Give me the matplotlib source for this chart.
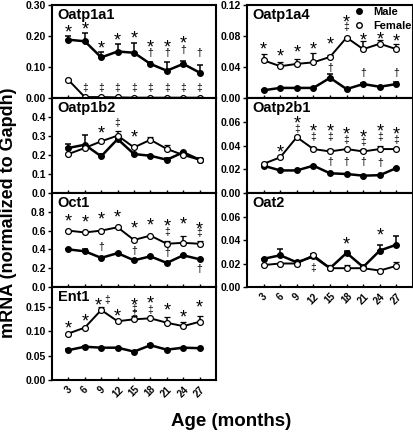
"""
Hepatic transporter mRNA vs age, male and female (seven small panels).
Output: out.png
"""

import matplotlib
matplotlib.use("Agg")
import matplotlib.pyplot as plt
from matplotlib.lines import Line2D

plt.rcParams["font.family"] = ["Liberation Sans", "DejaVu Sans"]
plt.rcParams["font.weight"] = "bold"

# ── Data ──────────────────────────────────────────────────────────────────────
AGES = [3, 6, 9, 12, 15, 18, 21, 24, 27]

OATP1A1_MALE = [0.188, 0.183, 0.131, 0.150, 0.146, 0.110, 0.088, 0.110, 0.082]
OATP1A1_MALE_ERR = [0.011, 0.026, 0.017, 0.025, 0.031, 0.005, 0.029, 0.010, 0.025]
OATP1A1_FEMALE = [0.058, 0.003, 0.003, 0.002, 0.001, 0.001, 0.001, 0.001, 0.001]
OATP1A1_FEMALE_ERR = [0.003, 0, 0, 0, 0, 0, 0, 0, 0]

OATP1A4_MALE = [0.010, 0.013, 0.013, 0.013, 0.026, 0.0115, 0.018, 0.0145, 0.018]
OATP1A4_MALE_ERR = [0, 0, 0, 0, 0.005, 0, 0.002, 0, 0.003]
OATP1A4_FEMALE = [0.0486, 0.041, 0.044, 0.046, 0.053, 0.078, 0.063, 0.070, 0.063]
OATP1A4_FEMALE_ERR = [0.008, 0.006, 0.006, 0.012, 0.002, 0.001, 0.010, 0.005, 0.007]

OATP1B2_MALE = [0.237, 0.254, 0.193, 0.284, 0.205, 0.196, 0.175, 0.214, 0.175]
OATP1B2_MALE_ERR = [0.021, 0.053, 0.012, 0, 0, 0.005, 0.010, 0, 0.008]
OATP1B2_FEMALE = [0.205, 0.237, 0.272, 0.302, 0.240, 0.280, 0.232, 0.200, 0.175]
OATP1B2_FEMALE_ERR = [0, 0, 0.005, 0.022, 0.005, 0.015, 0.022, 0, 0.010]

OATP2B1_MALE = [0.023, 0.019, 0.019, 0.023, 0.0166, 0.016, 0.0146, 0.015, 0.021]
OATP2B1_MALE_ERR = [0, 0, 0, 0, 0, 0, 0, 0, 0]
OATP2B1_FEMALE = [0.0246, 0.030, 0.047, 0.037, 0.035, 0.037, 0.035, 0.037, 0.037]
OATP2B1_FEMALE_ERR = [0, 0, 0.001, 0.002, 0.002, 0, 0.002, 0.003, 0.001]

OCT1_MALE = [0.40, 0.38, 0.31, 0.36, 0.284, 0.326, 0.256, 0.337, 0.295]
OCT1_MALE_ERR = [0, 0.02, 0, 0, 0, 0, 0, 0, 0]
OCT1_FEMALE = [0.60, 0.58, 0.60, 0.635, 0.50, 0.547, 0.46, 0.47, 0.46]
OCT1_FEMALE_ERR = [0.01, 0, 0, 0, 0.01, 0, 0.03, 0.07, 0.03]

OAT2_MALE = [0.024, 0.027, 0.021, 0.026, 0.016, 0.029, 0.017, 0.031, 0.036]
OAT2_MALE_ERR = [0, 0.005, 0, 0.002, 0, 0.002, 0, 0.005, 0.007]
OAT2_FEMALE = [0.0187, 0.020, 0.020, 0.027, 0.016, 0.016, 0.016, 0.014, 0.018]
OAT2_FEMALE_ERR = [0, 0, 0, 0.001, 0.003, 0.003, 0, 0, 0.003]

ENT1_MALE = [0.061, 0.068, 0.066, 0.066, 0.058, 0.071, 0.062, 0.066, 0.065]
ENT1_MALE_ERR = [0.003, 0.002, 0, 0, 0, 0.002, 0, 0, 0]
ENT1_FEMALE = [0.095, 0.107, 0.143, 0.120, 0.124, 0.126, 0.117, 0.110, 0.119]
ENT1_FEMALE_ERR = [0, 0, 0.007, 0, 0.006, 0, 0.012, 0.009, 0.012]

# Significance marks: (age, level, symbol)
STAR, DAG, DDAG = "*", "\u2020", "\u2021"

OATP1A1_MARKS = (
    [(a, y, STAR) for a, y in zip([3, 6, 9, 12, 15, 18, 21, 24],
                                  [0.229, 0.238, 0.177, 0.204, 0.21, 0.18, 0.18, 0.194])]
    + [(a, y, DAG) for a, y in zip([18, 21, 24, 27], [0.146, 0.146, 0.155, 0.146])]
    + [(a, 0.032, DDAG) for a in [6, 9, 12, 15, 18, 21, 24, 27]]
)
OATP1A4_MARKS = (
    [(a, y, STAR) for a, y in zip(AGES,
                                  [0.069, 0.061, 0.065, 0.069, 0.076, 0.104, 0.081, 0.083, 0.080])]
    + [(18, 0.091, DDAG)]
    + [(a, y, DAG) for a, y in zip([15, 21, 27], [0.039, 0.032, 0.032])]
)
OATP1B2_MARKS = [(9, 0.34, STAR), (12, 0.37, DDAG), (15, 0.32, STAR)]
OATP2B1_MARKS = (
    [(a, y, STAR) for a, y in zip(AGES[1:],
                                  [0.039, 0.063, 0.056, 0.056, 0.054, 0.051, 0.056, 0.054])]
    + [(a, y, DDAG) for a, y in zip(AGES[2:],
                                    [0.0535, 0.047, 0.047, 0.045, 0.043, 0.047, 0.045])]
    + [(a, y, DAG) for a, y in zip([15, 18, 21, 24], [0.026, 0.026, 0.026, 0.025])]
)
OCT1_MARKS = (
    [(a, y, STAR) for a, y in zip(AGES,
                                  [0.75, 0.74, 0.78, 0.80, 0.68, 0.71, 0.70, 0.72, 0.67])]
    + [(21, 0.585, DDAG), (27, 0.575, DDAG)]
    + [(a, y, DAG) for a, y in zip([9, 15, 21, 27], [0.43, 0.38, 0.36, 0.19])]
)
OAT2_MARKS = [(18, 0.041, STAR), (24, 0.048, STAR), (12, 0.016, DDAG)]
ENT1_MARKS = (
    [(a, y, STAR) for a, y in zip([3, 6, 8.4, 12, 15, 18, 21, 24, 27],
                                  [0.117, 0.131, 0.163, 0.141, 0.163, 0.167, 0.153, 0.139, 0.160])]
    + [(10.1, 0.163, DDAG), (15, 0.145, DDAG), (15, 0.134, DDAG), (18, 0.144, DDAG)]
)

# ── Panel layout (pixels in a 414 x 432 canvas) ───────────────────────────────
W, H = 414, 432
COLS = {"L": (52, 216), "R": (247, 413)}
ROWS = [(5, 98), (98, 193), (193, 287), (287, 380)]

PANELS = [
    # name, col, row, male, male_err, female, female_err, marks, ymax, yticks, fmt
    ("Oatp1a1", "L", 0, OATP1A1_MALE, OATP1A1_MALE_ERR, OATP1A1_FEMALE,
     OATP1A1_FEMALE_ERR, OATP1A1_MARKS, 0.30, [0, 0.1, 0.2, 0.3], "{:.2f}"),
    ("Oatp1b2", "L", 1, OATP1B2_MALE, OATP1B2_MALE_ERR, OATP1B2_FEMALE,
     OATP1B2_FEMALE_ERR, OATP1B2_MARKS, 0.50, [0, 0.1, 0.2, 0.3, 0.4], "{:.1f}"),
    ("Oct1", "L", 2, OCT1_MALE, OCT1_MALE_ERR, OCT1_FEMALE,
     OCT1_FEMALE_ERR, OCT1_MARKS, 1.0, [0, 0.2, 0.4, 0.6, 0.8], "{:.1f}"),
    ("Ent1", "L", 3, ENT1_MALE, ENT1_MALE_ERR, ENT1_FEMALE,
     ENT1_FEMALE_ERR, ENT1_MARKS, 0.19, [0, 0.05, 0.10, 0.15], "{:.2f}"),
    ("Oatp1a4", "R", 0, OATP1A4_MALE, OATP1A4_MALE_ERR, OATP1A4_FEMALE,
     OATP1A4_FEMALE_ERR, OATP1A4_MARKS, 0.12, [0, 0.04, 0.08, 0.12], "{:.2f}"),
    ("Oatp2b1", "R", 1, OATP2B1_MALE, OATP2B1_MALE_ERR, OATP2B1_FEMALE,
     OATP2B1_FEMALE_ERR, OATP2B1_MARKS, 0.08, [0, 0.02, 0.04, 0.06], "{:.2f}"),
    ("Oat2", "R", 2, OAT2_MALE, OAT2_MALE_ERR, OAT2_FEMALE,
     OAT2_FEMALE_ERR, OAT2_MARKS, 0.08, [0, 0.02, 0.04, 0.06], "{:.2f}"),
]
BOTTOM_PANELS = {"Ent1", "Oat2"}

# symbol -> (font size, downward shift in points so the glyph sits on its level)
MARK_STYLE = {STAR: (13, -4.2), DAG: (7.5, 0.0), DDAG: (7.5, 0.0)}

# ── Draw ──────────────────────────────────────────────────────────────────────
fig = plt.figure(figsize=(W / 100, H / 100), dpi=100)
fig.patch.set_facecolor("white")

for (name, col, row, male, male_err, female, female_err, marks,
     ymax, yticks, fmt) in PANELS:
    x0, x1 = COLS[col]
    y0, y1 = ROWS[row]
    ax = fig.add_axes([x0 / W, 1 - y1 / H, (x1 - x0) / W, (y1 - y0) / H])

    # male: filled circles, female: open circles; upper error caps only
    ax.errorbar(AGES, male, yerr=[[0] * len(male), male_err], fmt="-o",
                color="black", mfc="black", mec="black", ms=4, lw=1.8,
                elinewidth=1.1, capsize=2.2, capthick=1.1, zorder=3)
    ax.errorbar(AGES, female, yerr=[[0] * len(female), female_err], fmt="-o",
                color="black", mfc="white", mec="black", mew=0.9, ms=4.2,
                lw=1.4, elinewidth=1.1, capsize=2.2, capthick=1.1, zorder=4)

    for age, level, sym in marks:
        size, shift = MARK_STYLE[sym]
        ax.annotate(sym, (age, level), xytext=(0, shift),
                    textcoords="offset points", ha="center", va="center",
                    fontsize=size, fontweight="normal", color="black",
                    zorder=5)

    ax.text(0.035, 0.965, name, transform=ax.transAxes, ha="left", va="top",
            fontsize=10.5, fontweight="bold")

    ax.set_xlim(0, 30)
    ax.set_ylim(0, ymax)
    ax.set_xticks(AGES)
    ax.set_yticks(yticks)
    ax.set_yticklabels([fmt.format(v) for v in yticks], fontsize=7.5,
                       fontweight="bold")
    ax.tick_params(axis="x", direction="in", length=2, width=1)
    ax.tick_params(axis="y", direction="out", length=3, width=1, pad=1.5)
    if name in BOTTOM_PANELS:
        ax.set_xticklabels([str(a) for a in AGES], rotation=45, ha="center",
                           va="top", fontsize=7, fontweight="bold")
        ax.tick_params(axis="x", pad=3)
    else:
        ax.set_xticklabels([])

    for spine in ax.spines.values():
        spine.set_linewidth(1.5)

    if name == "Oatp1a4":
        handles = [
            Line2D([], [], ls="none", marker="o", ms=4, mfc="black", mec="black"),
            Line2D([], [], ls="none", marker="o", ms=4, mfc="white", mec="black"),
        ]
        ax.legend(handles, ["Male", "Female"], loc="upper right",
                  frameon=False, handlelength=1.0, handletextpad=0.8,
                  borderaxespad=0.05, borderpad=0.1, labelspacing=0.4,
                  prop={"size": 8, "weight": "bold"})

# ── Axis titles ───────────────────────────────────────────────────────────────
fig.text(0.02, 1 - 213 / H, "mRNA (normalized to Gapdh)", rotation=90,
         ha="center", va="center", fontsize=13, fontweight="bold")
fig.text(231 / W, 1 - 422 / H, "Age (months)", ha="center", va="center",
         fontsize=13.5, fontweight="bold")

fig.savefig("out.png", dpi=100, facecolor="white")
plt.close(fig)
